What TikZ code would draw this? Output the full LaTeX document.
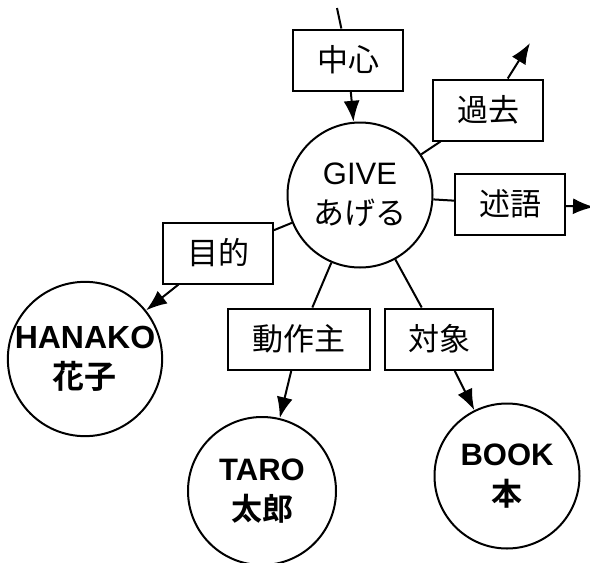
\documentclass[tikz,border=0pt]{standalone}
\usepackage{fontspec}
\setmainfont{Liberation Sans}
\newfontfamily\jp{Noto Sans CJK JP}[BoldFont={Noto Sans CJK JP Bold}]
\usetikzlibrary{arrows.meta}

\begin{document}
\begin{tikzpicture}[x=1pt,y=-1pt,line width=2pt,>={Latex[length=21pt,width=16pt]}]
                \useasboundingbox (0,0) rectangle (590,563);
                \begin{scope}[every node/.style={circle,draw=black,minimum size=145pt,inner sep=0pt,align=center,font=\fontsize{31}{40}\selectfont}]
                    \node (G) at (360,195) {GIVE\\{\jp あげる}};
                    \node[font=\bfseries\fontsize{32}{40}\selectfont] (H) at (85,359) {HANAKO\\{\jp 花子}};
                    \node[font=\bfseries\fontsize{31}{40}\selectfont,minimum size=148pt] (T) at (262,491) {TARO\\{\jp 太郎}};
                    \node[font=\bfseries\fontsize{31}{40}\selectfont] (B) at (507,476) {BOOK\\{\jp 本}};
                \end{scope}
                \begin{scope}[every node/.style={rectangle,draw=black,fill=white,minimum width=110pt,minimum height=61pt,font=\jp\fontsize{31}{36}\selectfont}]
                    \node (C1) at (348,60) {中心};
                    \node (C2) at (488,110) {過去};
                    \node (C3) at (510,204) {述語};
                    \node (C4) at (218,253) {目的};
                    \node[minimum width=142pt] (C5) at (299,339) {動作主};
                    \node[minimum width=108pt] (C6) at (439,339) {対象};
                \end{scope}
                \coordinate (top) at (337,8);
                \coordinate (past) at (530,43);
                \coordinate (pred) at (594,207);
                \begin{scope}[every edge/.style={draw=black}]
                    \draw (top) edge (C1);
                    \draw (C1) edge[->] (G);
                    \draw (G) edge (C2);
                    \draw (C2) edge[->] (past);
                    \draw (G) edge (C3);
                    \draw (C3) edge[->] (pred);
                    \draw (G) edge (C4);
                    \draw (C4) edge[->] (H);
                    \draw (G) edge (C5);
                    \draw (C5) edge[->] (T);
                    \draw (G) edge (C6);
                    \draw (C6) edge[->] (B);
                \end{scope}
            \end{tikzpicture}
\end{document}
